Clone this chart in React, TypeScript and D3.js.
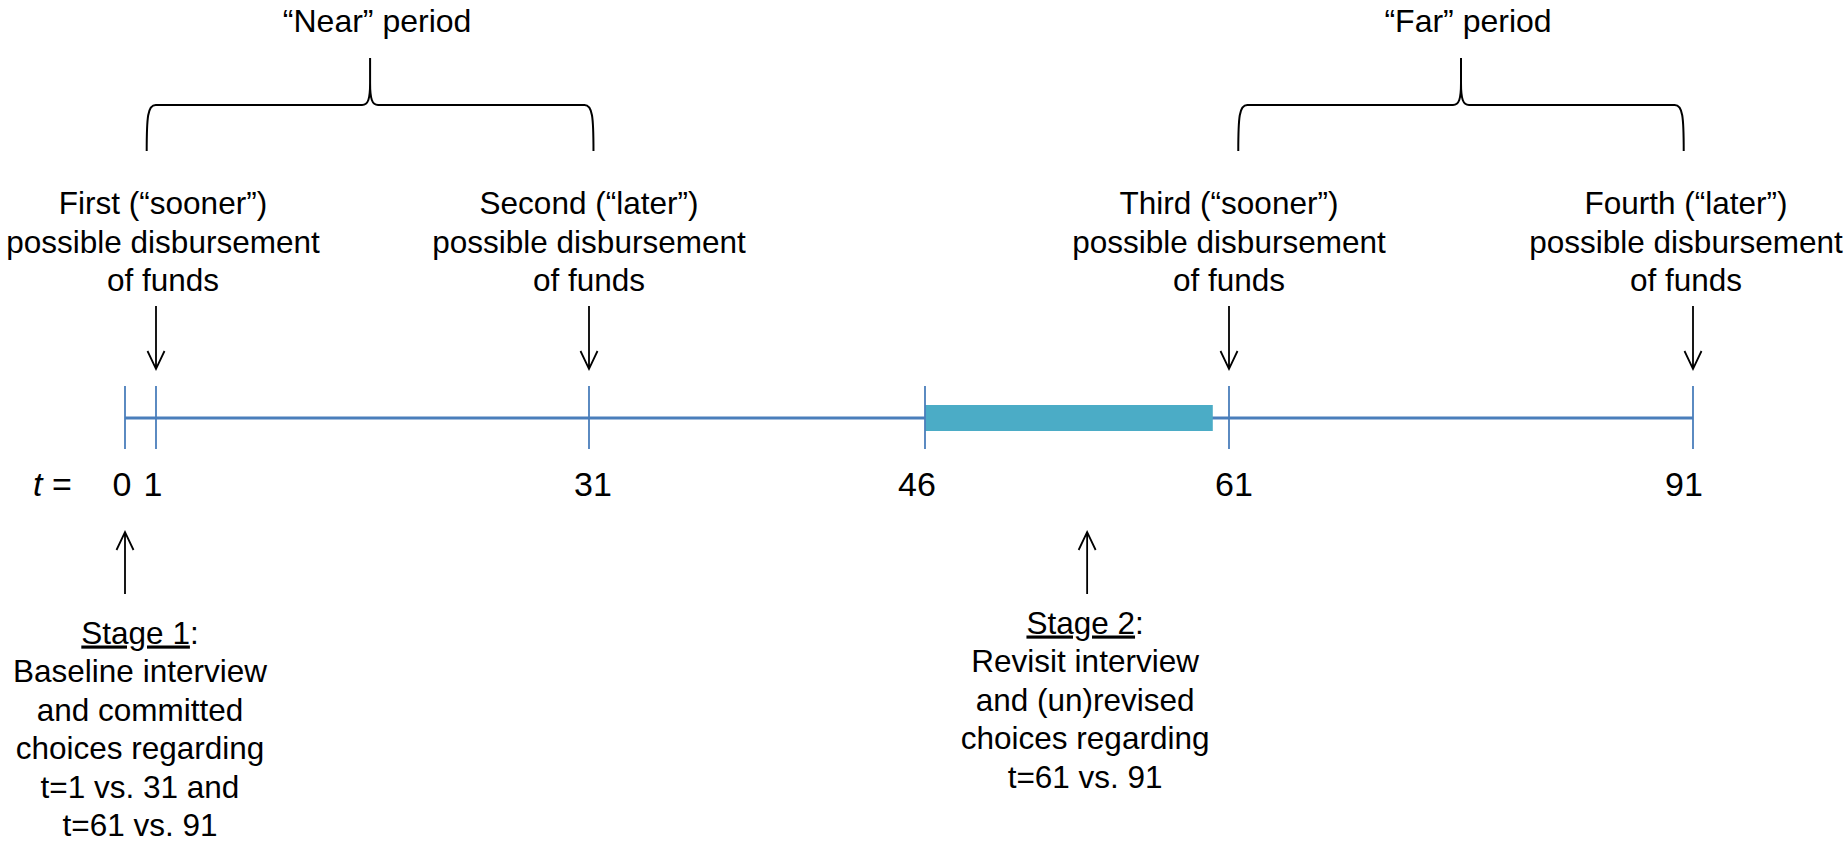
import React from "react";
import * as d3 from "d3";

// ---- data ----
const tickValues = [0, 1, 31, 46, 61, 91];
const tickLabels = ["0", "1", "31", "46", "61", "91"];
const shadedStart = 46;
const shadedEnd = 60.2;
const disbursementDays = [1, 31, 61, 91];
const disbursementTexts = [
  ["First (\u201Csooner\u201D)", "possible disbursement", "of funds"],
  ["Second (\u201Clater\u201D)", "possible disbursement", "of funds"],
  ["Third (\u201Csooner\u201D)", "possible disbursement", "of funds"],
  ["Fourth (\u201Clater\u201D)", "possible disbursement", "of funds"],
];
const periodNames = ["\u201CNear\u201D period", "\u201CFar\u201D period"];
const periodStart = [0.7, 61.6];
const periodEnd = [31.2, 90.4];
const stageDays = [0, 54];
const stageTitles = ["Stage 1", "Stage 2"];
const stageTexts = [
  ["Baseline interview", "and committed", "choices regarding", "t=1 vs. 31 and", "t=61 vs. 91"],
  ["Revisit interview", "and (un)revised", "choices regarding", "t=61 vs. 91"],
];

// ---- layout ----
const W = 1846;
const H = 844;
const tickPixels = [125, 156, 589, 925, 1229, 1693];
const labelDx = [-3, -3, 4, -8, 5, -9];
const disbursementTextDx = [7, 0, 0, -7];
const stageTextDx = [15, -2];
const stageTextTop = [643.5, 633.5];
const axisY = 418;
const tickTop = 386;
const tickBottom = 449;
const barHalf = 13;
const labelBaseline = 496;
const topTextBaseline = 214;
const lineGap = 38.5;
const textSize = 31.5;
const downArrowTop = 306;
const downArrowTip = 369;
const upArrowTip = 532;
const upArrowBottom = 594;
const braceLineY = 105;
const braceEndY = 151;
const braceTopY = 58;
const periodLabelBaseline = 32;
const FONT = "'Liberation Sans', Arial, Helvetica, sans-serif";
const AXIS_COLOR = "#4a7ebb";
const BAR_COLOR = "#4bacc6";

const x = d3.scaleLinear().domain(tickValues).range(tickPixels);

function bracePath(x0: number, x1: number): string {
  const cx = (x0 + x1) / 2;
  const p = d3.path();
  p.moveTo(x0, braceEndY);
  p.bezierCurveTo(x0, braceLineY + 12, x0 + 1, braceLineY, x0 + 9, braceLineY);
  p.lineTo(cx - 8, braceLineY);
  p.bezierCurveTo(cx - 2, braceLineY, cx, braceLineY - 6, cx, braceLineY - 22);
  p.lineTo(cx, braceTopY);
  p.moveTo(cx, braceLineY - 22);
  p.bezierCurveTo(cx, braceLineY - 6, cx + 2, braceLineY, cx + 8, braceLineY);
  p.lineTo(x1 - 9, braceLineY);
  p.bezierCurveTo(x1 - 1, braceLineY, x1, braceLineY + 12, x1, braceEndY);
  return p.toString();
}

function arrowDown(xp: number): string {
  const p = d3.path();
  p.moveTo(xp, downArrowTop);
  p.lineTo(xp, downArrowTip);
  p.moveTo(xp - 8.5, downArrowTip - 18);
  p.lineTo(xp, downArrowTip);
  p.lineTo(xp + 8.5, downArrowTip - 18);
  return p.toString();
}

function arrowUp(xp: number): string {
  const p = d3.path();
  p.moveTo(xp, upArrowBottom);
  p.lineTo(xp, upArrowTip);
  p.moveTo(xp - 8.5, upArrowTip + 18);
  p.lineTo(xp, upArrowTip);
  p.lineTo(xp + 8.5, upArrowTip + 18);
  return p.toString();
}

export default function App() {
  return (
    <div style={{ position: "absolute", left: 0, top: 0 }}>
      <svg width={W} height={H} style={{ display: "block", background: "#fff" }} fontFamily={FONT}>
        {/* braces and period labels */}
        {periodNames.map((name, i) => {
          const x0 = x(periodStart[i]);
          const x1 = x(periodEnd[i]);
          return (
            <g key={name}>
              <path d={bracePath(x0, x1)} fill="none" stroke="#000" strokeWidth={2} />
              <text x={(x0 + x1) / 2 + 7} y={periodLabelBaseline} fontSize={32} textAnchor="middle" fill="#000">
                {name}
              </text>
            </g>
          );
        })}

        {/* disbursement labels and arrows */}
        {disbursementDays.map((d, i) => (
          <g key={d}>
            {disbursementTexts[i].map((line, j) => (
              <text
                key={j}
                x={x(d) + disbursementTextDx[i]}
                y={topTextBaseline + j * lineGap}
                fontSize={textSize}
                textAnchor="middle"
                fill="#000"
              >
                {line}
              </text>
            ))}
            <path d={arrowDown(x(d))} fill="none" stroke="#000" strokeWidth={1.8} />
          </g>
        ))}

        {/* axis */}
        <line x1={x(tickValues[0])} x2={x(tickValues[tickValues.length - 1])} y1={axisY} y2={axisY} stroke={AXIS_COLOR} strokeWidth={3} />
        <rect x={x(shadedStart)} y={axisY - barHalf} width={x(shadedEnd) - x(shadedStart)} height={barHalf * 2} fill={BAR_COLOR} />
        {tickValues.map((t) => (
          <line key={t} x1={x(t)} x2={x(t)} y1={tickTop} y2={tickBottom} stroke={AXIS_COLOR} strokeWidth={1.8} />
        ))}
        <text x={33} y={labelBaseline} fontSize={34} fill="#000">
          <tspan fontStyle="italic">t</tspan>
          <tspan> =</tspan>
        </text>
        {tickValues.map((t, i) => (
          <text key={t} x={x(t) + labelDx[i]} y={labelBaseline} fontSize={34} textAnchor="middle" fill="#000">
            {tickLabels[i]}
          </text>
        ))}

        {/* stages */}
        {stageDays.map((d, i) => {
          const cx = x(d) + stageTextDx[i];
          return (
            <g key={d}>
              <path d={arrowUp(x(d))} fill="none" stroke="#000" strokeWidth={1.8} />
              <text x={cx} y={stageTextTop[i]} fontSize={textSize} textAnchor="middle" fill="#000">
                <tspan style={{ textDecoration: "underline" }}>{stageTitles[i]}</tspan>
                <tspan>:</tspan>
              </text>
              {stageTexts[i].map((line, j) => (
                <text key={j} x={cx} y={stageTextTop[i] + (j + 1) * lineGap} fontSize={textSize} textAnchor="middle" fill="#000">
                  {line}
                </text>
              ))}
            </g>
          );
        })}
      </svg>
    </div>
  );
}
